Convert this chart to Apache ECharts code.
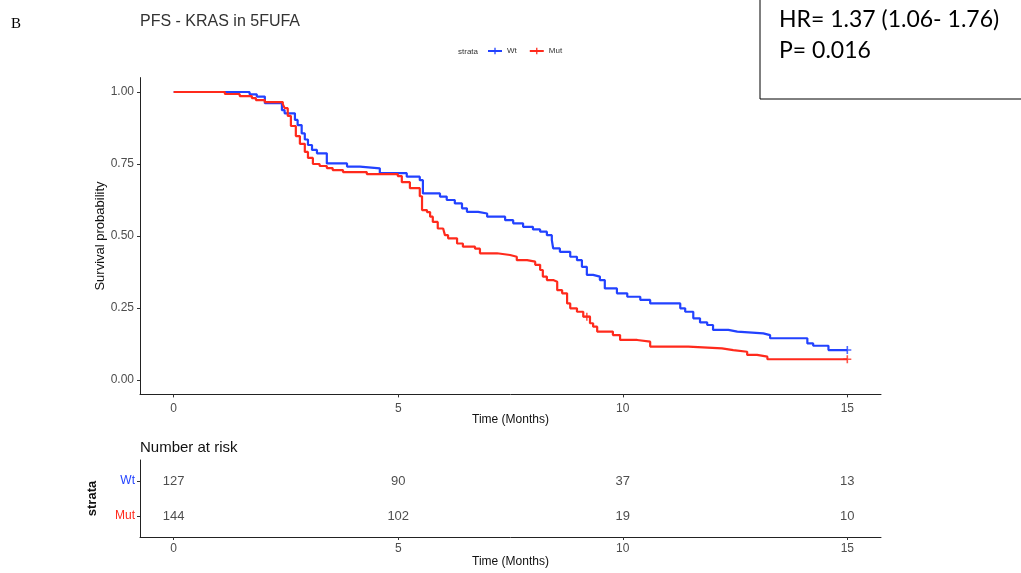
<!DOCTYPE html>
<html>
<head>
<meta charset="utf-8">
<script src="https://cdn.jsdelivr.net/npm/echarts@6/dist/echarts.min.js"></script>
<style>
  html, body { margin: 0; padding: 0; background: #fff; }
  #chart { width: 1021px; height: 573px; }
</style>
</head>
<body>
<div id="chart"></div>
<script>
// Kaplan-Meier step data: time (months) and survival probability after each step
const wtTime = [0,1.69,1.85,2.03,2.41,2.47,2.70,2.76,2.85,2.92,2.99,3.08,3.19,3.41,3.86,4.15,4.59,5.19,5.48,5.55,5.93,6.08,6.26,6.42,6.53,6.78,6.98,7.38,7.56,7.78,8.00,8.16,8.31,8.42,8.45,8.60,8.83,8.98,9.09,9.20,9.34,9.49,9.60,9.87,10.10,10.39,10.61,11.28,11.39,11.57,11.72,11.88,12.01,12.35,12.55,13.13,13.28,14.11,14.24,14.58,15];
const wtSurv = [1,0.992,0.984,0.961,0.937,0.926,0.903,0.885,0.856,0.835,0.816,0.799,0.787,0.752,0.741,0.735,0.718,0.706,0.694,0.648,0.637,0.625,0.613,0.596,0.584,0.578,0.567,0.555,0.544,0.532,0.523,0.515,0.503,0.486,0.457,0.445,0.428,0.416,0.393,0.365,0.359,0.347,0.318,0.301,0.289,0.278,0.266,0.249,0.237,0.214,0.200,0.191,0.174,0.168,0.162,0.156,0.145,0.127,0.119,0.104,0.104];
const mutTime = [0,1.14,1.47,1.74,1.83,2.03,2.43,2.47,2.54,2.61,2.72,2.81,2.92,2.99,3.10,3.25,3.41,3.54,3.77,4.30,4.99,5.08,5.26,5.48,5.53,5.64,5.71,5.77,5.88,6.00,6.04,6.11,6.31,6.44,6.71,6.82,7.20,7.49,7.64,7.87,8.05,8.16,8.22,8.31,8.45,8.54,8.65,8.76,8.83,8.98,9.12,9.27,9.34,9.43,9.78,9.94,10.32,10.61,11.46,12.21,12.46,12.77,12.99,13.22,15];
const mutSurv = [1,0.993,0.986,0.979,0.972,0.965,0.958,0.944,0.917,0.882,0.847,0.820,0.792,0.771,0.750,0.743,0.736,0.729,0.722,0.715,0.708,0.687,0.666,0.638,0.590,0.583,0.567,0.549,0.526,0.520,0.503,0.492,0.474,0.463,0.456,0.440,0.434,0.428,0.416,0.411,0.400,0.382,0.359,0.347,0.341,0.312,0.301,0.266,0.249,0.237,0.220,0.197,0.185,0.168,0.156,0.139,0.133,0.116,0.110,0.104,0.098,0.087,0.081,0.072,0.072];

// Censored observations (time, survival)
const wtCensored = [[15, 0.104]];
const mutCensored = [[9.2, 0.22], [15, 0.072]];

// Number at risk table
const riskTimes = [0, 5, 10, 15];
const wtAtRisk = [127, 90, 37, 13];
const mutAtRisk = [144, 102, 19, 10];

const xTicks = [0, 5, 10, 15];
const yTicks = [0, 0.25, 0.5, 0.75, 1];

const chartTitle = 'PFS - KRAS in 5FUFA';
const hrText = 'HR= 1.37 (1.06- 1.76)';
const pText = 'P= 0.016';

const WT_COLOR = '#2242ff';
const MUT_COLOR = '#ff2a1c';
const PLUS = 'path://M4,0h2v4h4v2h-4v4h-2v-4h-4v-2h4z';
const FONT = '"Liberation Sans", Arial, sans-serif';
const BOX_FONT = '23px Lato, "Open Sans", sans-serif';

const zip = (a, b) => a.map((v, i) => [v, b[i]]);

const axisLineStyle = { color: '#222', width: 1 };
const tickStyle = { color: '#333', width: 1 };

function timeAxis(gridIndex, labelMargin, nameGap) {
  return {
    type: 'value', gridIndex, min: -0.75, max: 15.75,
    name: 'Time (Months)', nameLocation: 'middle', nameGap, nameMoveOverlap: false,
    nameTextStyle: { fontFamily: FONT, fontSize: 12, color: '#111' },
    axisLine: { show: true, onZero: false, lineStyle: axisLineStyle },
    axisTick: { show: true, length: 3, lineStyle: tickStyle, customValues: xTicks },
    axisLabel: { customValues: xTicks, margin: labelMargin, fontFamily: FONT, fontSize: 12, color: '#4d4d4d' },
    splitLine: { show: false }
  };
}

const chart = echarts.init(document.getElementById('chart'), null, { renderer: 'canvas' });

chart.setOption({
  animation: false,
  backgroundColor: '#fff',
  title: [
    { text: 'B', left: 6, top: 12, textStyle: { fontFamily: '"Liberation Serif", serif', fontSize: 15, fontWeight: 'normal', color: '#000' } },
    { text: chartTitle, left: 135, top: 9, textStyle: { fontFamily: FONT, fontSize: 16, fontWeight: 'normal', color: '#333' } },
    { text: 'strata', left: 453, top: 43, textStyle: { fontFamily: FONT, fontSize: 8, fontWeight: 'normal', color: '#333' } },
    { text: 'Number at risk', left: 135, top: 435, textStyle: { fontFamily: FONT, fontSize: 15, fontWeight: 'normal', color: '#111' } }
  ],
  legend: {
    data: ['Wt', 'Mut'], left: 482, top: 42, itemWidth: 14, itemHeight: 8, itemGap: 12,
    textStyle: { fontFamily: FONT, fontSize: 8, color: '#333' }
  },
  graphic: [
    { type: 'rect', shape: { x: 760, y: -2, width: 270, height: 101 }, style: { fill: '#fff', stroke: '#000', lineWidth: 1 } },
    { type: 'text', left: 779, top: 8, style: { text: hrText, font: BOX_FONT, fill: '#000' } },
    { type: 'text', left: 779, top: 39, style: { text: pText, font: BOX_FONT, fill: '#000' } }
  ],
  grid: [
    { left: 140, right: 140, top: 77.6, height: 316.8 },
    { left: 140, right: 140, top: 460, height: 77 }
  ],
  xAxis: [timeAxis(0, 8, 19), timeAxis(1, 6, 19)],
  yAxis: [
    {
      type: 'value', gridIndex: 0, min: -0.05, max: 1.05,
      name: 'Survival probability', nameLocation: 'middle', nameGap: 33, nameRotate: 90, nameMoveOverlap: false,
      nameTextStyle: { fontFamily: FONT, fontSize: 13, color: '#111' },
      axisLine: { show: true, onZero: false, lineStyle: axisLineStyle },
      axisTick: { show: true, length: 3, lineStyle: tickStyle, customValues: yTicks },
      axisLabel: { customValues: yTicks, margin: 6, fontFamily: FONT, fontSize: 12, color: '#4d4d4d', formatter: v => v.toFixed(2) },
      splitLine: { show: false }
    },
    {
      type: 'value', gridIndex: 1, min: 0.4, max: 2.6,
      name: 'strata', nameLocation: 'middle', nameGap: 41, nameRotate: 90, nameMoveOverlap: false,
      nameTextStyle: { fontFamily: FONT, fontSize: 13, fontWeight: 'bold', color: '#111' },
      axisLine: { show: true, onZero: false, lineStyle: axisLineStyle },
      axisTick: { show: true, length: 3, lineStyle: tickStyle, customValues: [1, 2] },
      axisLabel: {
        customValues: [1, 2], margin: 5, fontFamily: FONT, fontSize: 11,
        formatter: v => (v === 2 ? '{wt|Wt}' : '{mut|Mut}'),
        rich: { wt: { color: WT_COLOR, fontFamily: FONT, fontSize: 12 }, mut: { color: MUT_COLOR, fontFamily: FONT, fontSize: 12 } }
      },
      splitLine: { show: false }
    }
  ],
  series: [
    {
      name: 'Wt', type: 'line', step: 'end', xAxisIndex: 0, yAxisIndex: 0,
      data: zip(wtTime, wtSurv), symbol: PLUS, symbolSize: 8, showSymbol: false,
      lineStyle: { color: WT_COLOR, width: 2.2 }, itemStyle: { color: WT_COLOR }, z: 3
    },
    {
      name: 'Mut', type: 'line', step: 'end', xAxisIndex: 0, yAxisIndex: 0,
      data: zip(mutTime, mutSurv), symbol: PLUS, symbolSize: 8, showSymbol: false,
      lineStyle: { color: MUT_COLOR, width: 2.2 }, itemStyle: { color: MUT_COLOR }, z: 4
    },
    {
      name: 'Wt censored', type: 'scatter', xAxisIndex: 0, yAxisIndex: 0,
      data: wtCensored, symbol: PLUS, symbolSize: 8, itemStyle: { color: WT_COLOR }, z: 5
    },
    {
      name: 'Mut censored', type: 'scatter', xAxisIndex: 0, yAxisIndex: 0,
      data: mutCensored, symbol: PLUS, symbolSize: 8, itemStyle: { color: MUT_COLOR }, z: 5
    },
    {
      name: 'At risk', type: 'scatter', xAxisIndex: 1, yAxisIndex: 1, symbolSize: 0,
      data: riskTimes.map((t, i) => [t, 2, wtAtRisk[i]]).concat(riskTimes.map((t, i) => [t, 1, mutAtRisk[i]])),
      label: { show: true, position: 'inside', formatter: p => String(p.value[2]), fontFamily: FONT, fontSize: 13, color: '#222' }
    }
  ]
});
</script>
</body>
</html>
